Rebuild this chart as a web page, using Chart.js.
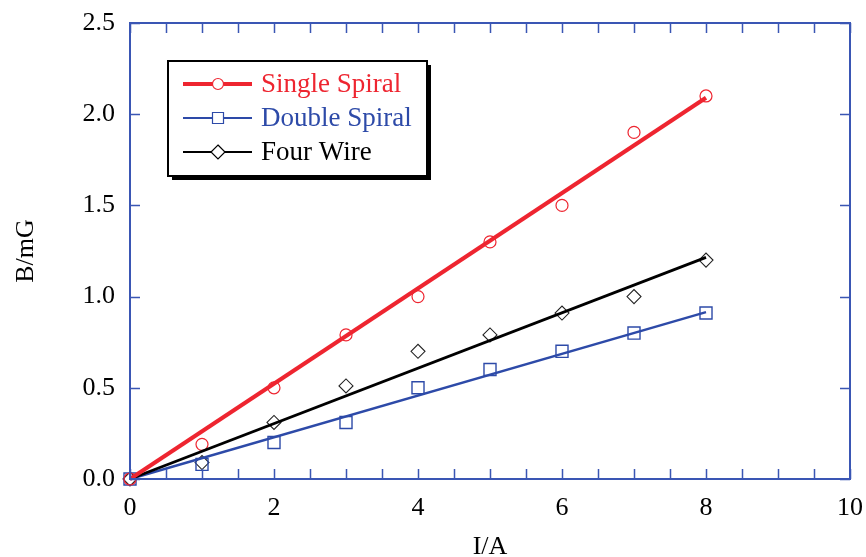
<!DOCTYPE html>
<html>
<head>
<meta charset="utf-8">
<style>
  html, body { margin: 0; padding: 0; background: #ffffff; }
  #wrap { width: 866px; height: 557px; }
</style>
<script src="https://cdn.jsdelivr.net/npm/chart.js@4/dist/chart.umd.min.js"></script>
</head>
<body>
<div id="wrap"><canvas id="chart" width="866" height="557"></canvas></div>
<script>
// Measured field B (mG) against coil current I (A)
const currents     = [0, 1, 2, 3, 4, 5, 6, 7, 8];
const singleSpiral = [0, 0.19, 0.50, 0.79, 1.00, 1.30, 1.50, 1.90, 2.10];
const doubleSpiral = [0, 0.08, 0.20, 0.31, 0.50, 0.60, 0.70, 0.80, 0.91];
const fourWire     = [0, 0.09, 0.31, 0.51, 0.70, 0.79, 0.91, 1.00, 1.20];

// Straight-line fits, given at their end points
const fitX         = [0, 8];
const singleFit    = [0, 2.09];
const doubleFit    = [0, 0.915];
const fourFit      = [0, 1.215];

const seriesNames  = ['Single Spiral', 'Double Spiral', 'Four Wire'];

const RED   = '#ee2530';
const BLUE  = '#2d4aa8';
const BLACK = '#000000';
const AXIS  = '#3a56b4';
const FONT  = '"Liberation Serif", "Times New Roman", serif';

const pts = (xs, ys) => xs.map((x, i) => ({ x: x, y: ys[i] }));

function markerSet(label, ys, color, style, radius, bw) {
  return {
    label: label, data: pts(currents, ys), showLine: false,
    pointStyle: style, pointRadius: radius, pointHoverRadius: radius,
    pointBorderColor: color, pointBackgroundColor: 'rgba(255,255,255,0)',
    pointBorderWidth: bw, borderColor: color, clip: false, order: 2
  };
}
function fitSet(ys, color, width) {
  return {
    label: '', data: pts(fitX, ys), showLine: true, borderColor: color,
    borderWidth: width, pointRadius: 0, pointHoverRadius: 0, clip: false, order: 1
  };
}

// Inward tick marks on all four sides, plus the closing frame
const frameTicks = {
  id: 'frameTicks',
  afterDatasetsDraw(chart) {
    const { ctx, chartArea: a, scales: { x, y } } = chart;
    ctx.save();
    ctx.strokeStyle = AXIS;
    ctx.lineWidth = 1.5;
    ctx.beginPath();
    for (let v = 0; v <= 10.0001; v += 0.5) {
      const px = Math.round(x.getPixelForValue(v)) + 0.5;
      ctx.moveTo(px, a.bottom); ctx.lineTo(px, a.bottom - 10);
      ctx.moveTo(px, a.top);    ctx.lineTo(px, a.top + 10);
    }
    for (let v = 0; v <= 2.5001; v += 0.5) {
      const py = Math.round(y.getPixelForValue(v)) + 0.5;
      ctx.moveTo(a.left, py);  ctx.lineTo(a.left + 10, py);
      ctx.moveTo(a.right, py); ctx.lineTo(a.right - 10, py);
    }
    ctx.stroke();
    ctx.lineWidth = 2;
    ctx.strokeRect(a.left, a.top, a.right - a.left, a.bottom - a.top);
    ctx.restore();
  }
};

// Boxed legend with a drop shadow, each row a line with its marker
const boxedLegend = {
  id: 'boxedLegend',
  afterDraw(chart) {
    const ctx = chart.ctx;
    const bx = 168, by = 61, bw = 259, bh = 115;
    const rows = [
      { name: seriesNames[0], color: RED,   lw: 4, mark: 'circle' },
      { name: seriesNames[1], color: BLUE,  lw: 2, mark: 'rect' },
      { name: seriesNames[2], color: BLACK, lw: 2, mark: 'diamond' }
    ];
    ctx.save();
    ctx.fillStyle = '#000';
    ctx.fillRect(bx + 4, by + 4, bw, bh);
    ctx.fillStyle = '#fff';
    ctx.fillRect(bx, by, bw, bh);
    ctx.strokeStyle = '#000';
    ctx.lineWidth = 2;
    ctx.strokeRect(bx, by, bw, bh);
    rows.forEach((r, i) => {
      const cy = by + 23 + i * 34;
      ctx.strokeStyle = r.color;
      ctx.lineWidth = r.lw;
      ctx.beginPath();
      ctx.moveTo(183, cy); ctx.lineTo(252, cy);
      ctx.stroke();
      ctx.lineWidth = 1.2;
      ctx.fillStyle = '#fff';
      ctx.beginPath();
      if (r.mark === 'circle') {
        ctx.arc(218, cy, 5.5, 0, Math.PI * 2);
      } else if (r.mark === 'rect') {
        ctx.rect(212.5, cy - 5.5, 11, 11);
      } else {
        ctx.moveTo(218, cy - 7); ctx.lineTo(225, cy); ctx.lineTo(218, cy + 7); ctx.lineTo(211, cy); ctx.closePath();
      }
      ctx.fill();
      ctx.stroke();
      ctx.fillStyle = r.color;
      ctx.font = '27px ' + FONT;
      ctx.textBaseline = 'middle';
      ctx.textAlign = 'left';
      ctx.fillText(r.name, 261, cy + 1);
    });
    ctx.restore();
  }
};

new Chart(document.getElementById('chart'), {
  type: 'scatter',
  data: {
    datasets: [
      fitSet(singleFit, RED, 4),
      fitSet(fourFit, BLACK, 2.8),
      fitSet(doubleFit, BLUE, 2.4),
      markerSet(seriesNames[0], singleSpiral, RED, 'circle', 6, 1.2),
      markerSet(seriesNames[1], doubleSpiral, BLUE, 'rect', 8.5, 1.4),
      markerSet(seriesNames[2], fourWire, '#222', 'rectRot', 7, 1.1)
    ]
  },
  options: {
    responsive: false,
    animation: false,
    events: [],
    layout: { padding: { top: 23, right: 16, left: 0, bottom: 0 } },
    plugins: { legend: { display: false }, tooltip: { enabled: false } },
    scales: {
      x: {
        type: 'linear', min: 0, max: 10,
        ticks: { stepSize: 2, color: '#000', padding: 14, font: { family: FONT, size: 26 }, maxRotation: 0 },
        grid: { drawOnChartArea: false, drawTicks: false },
        border: { display: true, color: AXIS, width: 2 },
        title: { display: true, text: 'I/A', color: '#000', font: { family: FONT, size: 26, lineHeight: 1 }, padding: { top: 0, bottom: -3 } },
        afterFit(s) { s.height = 78; s.paddingLeft = 0; s.paddingRight = 0; }
      },
      y: {
        type: 'linear', min: 0, max: 2.5,
        ticks: { stepSize: 0.5, color: '#000', padding: 15, font: { family: FONT, size: 26 }, callback: v => v.toFixed(1) },
        grid: { drawOnChartArea: false, drawTicks: false },
        border: { display: true, color: AXIS, width: 2 },
        title: { display: true, text: 'B/mG', color: '#000', font: { family: FONT, size: 26, lineHeight: 1 }, padding: { top: 13, bottom: 0 } },
        afterFit(s) { s.width = 130; s.paddingTop = 0; s.paddingBottom = 0; }
      }
    }
  },
  plugins: [frameTicks, boxedLegend]
});
</script>
</body>
</html>
